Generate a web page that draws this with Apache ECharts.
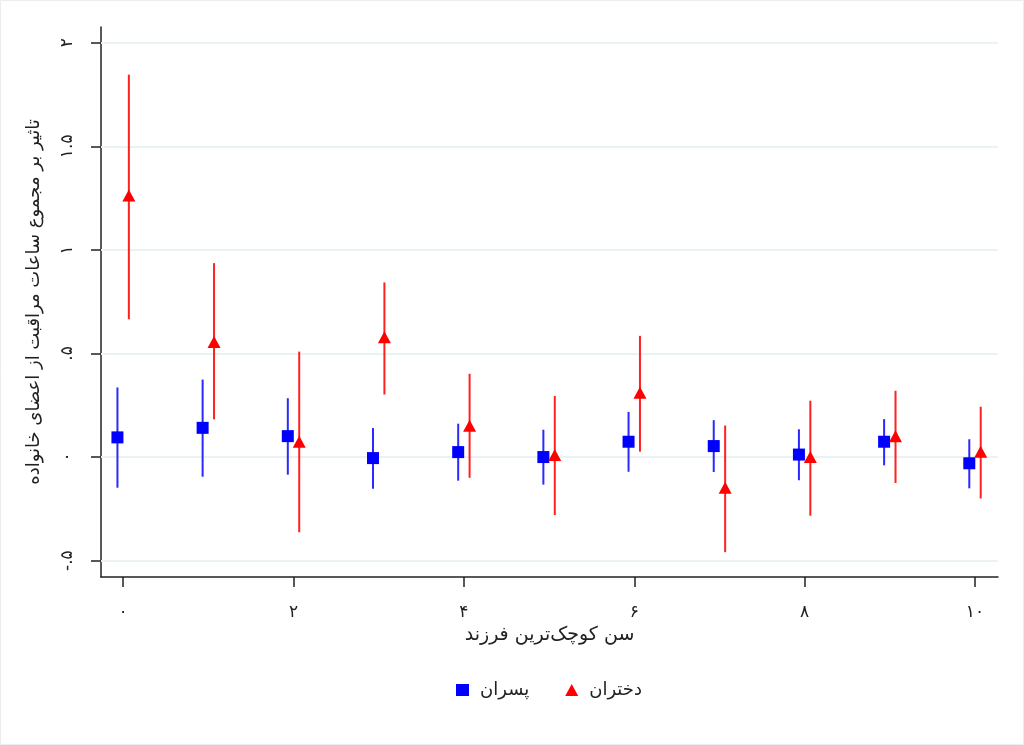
<!DOCTYPE html>
<html>
<head>
<meta charset="utf-8">
<script src="https://cdn.jsdelivr.net/npm/echarts@6/dist/echarts.min.js"></script>
<style>html,body{margin:0;padding:0;background:#fff}#c{width:1024px;height:745px}</style>
</head>
<body>
<div id="c"></div>
<script>
const ages = [0,1,2,3,4,5,6,7,8,9,10];
const boysCoef = [0.095, 0.141, 0.101, -0.005, 0.024, 0.000, 0.074, 0.053, 0.012, 0.074, -0.030];
const boysLo   = [-0.148, -0.095, -0.085, -0.153, -0.114, -0.133, -0.071, -0.072, -0.112, -0.040, -0.151];
const boysHi   = [0.336, 0.374, 0.284, 0.140, 0.161, 0.132, 0.218, 0.178, 0.134, 0.183, 0.086];
const girlsCoef = [1.263, 0.556, 0.074, 0.578, 0.151, 0.010, 0.310, -0.148, 0.000, 0.101, 0.026];
const girlsLo   = [0.665, 0.182, -0.363, 0.302, -0.100, -0.280, 0.026, -0.459, -0.283, -0.125, -0.200];
const girlsHi   = [1.846, 0.936, 0.509, 0.843, 0.402, 0.295, 0.585, 0.152, 0.272, 0.320, 0.243];
const xTickValues = [0,2,4,6,8,10];
const xTickLabels = ['۰','۲','۴','۶','۸','۱۰'];
const yTickValues = [-0.5,0,0.5,1,1.5,2];
const yTickLabels = ['-.۵','۰','.۵','۱','۱.۵','۲'];
const boysName = 'پسران';
const girlsName = 'دختران';
const xTitle = 'سن کوچک‌ترین فرزند';
const yTitle = 'تاثیر بر مجموع ساعات مراقبت از اعضای خانواده';

const OFF = 0.067;
const FONT = 'DejaVu Sans';

function ebData(coef, lo, hi, off){ return ages.map((a,i)=>[a+off, lo[i], hi[i]]); }
function ptData(coef, off){ return ages.map((a,i)=>[a+off, coef[i]]); }
function ebRender(color){
  return function(params, api){
    const p1 = api.coord([api.value(0), api.value(1)]);
    const p2 = api.coord([api.value(0), api.value(2)]);
    return {type:'line', shape:{x1:p1[0], y1:p1[1], x2:p2[0], y2:p2[1]},
            style:{stroke:color, lineWidth:2}};
  };
}

const chart = echarts.init(document.getElementById('c'), null, {renderer:'canvas'});
chart.setOption({
  animation:false,
  backgroundColor:'#fff',
  textStyle:{fontFamily:FONT},
  grid:{left:101, right:26, top:27, bottom:168, containLabel:false},
  graphic:[{type:'rect', shape:{x:0.5,y:0.5,width:1023,height:744}, style:{fill:'none', stroke:'#ececec', lineWidth:1}, silent:true}],
  legend:{
    left:451, top:676, orient:'horizontal', itemWidth:13, itemHeight:12, itemGap:36,
    textStyle:{fontFamily:FONT, fontSize:18, color:'#222', padding:[0,0,0,6]},
    data:[{name:boysName, icon:'rect'},{name:girlsName, icon:'triangle'}]
  },
  xAxis:{
    type:'value', min:-0.26, max:10.27,
    name:xTitle, nameLocation:'middle', nameGap:46,
    nameTextStyle:{fontFamily:FONT, fontSize:19, color:'#222'},
    axisLine:{show:true, onZero:false, lineStyle:{color:'#222', width:1.5}},
    axisTick:{show:true, length:10, lineStyle:{color:'#222', width:1.5}, customValues:xTickValues},
    axisLabel:{customValues:xTickValues, margin:27, fontSize:17, color:'#222', fontFamily:FONT,
      formatter:(v)=>xTickLabels[xTickValues.indexOf(v)]},
    splitLine:{show:false}
  },
  yAxis:{
    type:'value', min:-0.579, max:2.076,
    name:yTitle, nameLocation:'middle', nameGap:58, nameRotate:90,
    nameTextStyle:{fontFamily:FONT, fontSize:18, color:'#222'},
    axisLine:{show:true, onZero:false, lineStyle:{color:'#222', width:1.5}},
    axisTick:{show:true, length:10, lineStyle:{color:'#222', width:1.5}, customValues:yTickValues},
    axisLabel:{customValues:yTickValues, rotate:90, margin:25, fontSize:17, color:'#222', fontFamily:FONT,
      formatter:(v)=>yTickLabels[yTickValues.indexOf(v)]},
    splitLine:{show:false}
  },
  series:[
    {type:'scatter', name:'grid', data:[], silent:true,
     markLine:{silent:true, symbol:'none', z:1, label:{show:false},
       lineStyle:{color:'#eaf2f3', width:2, type:'solid'},
       data:yTickValues.map(v=>({yAxis:v}))}},
    {type:'custom', name:'boysCI', renderItem:ebRender('#2a2aff'), data:ebData(boysCoef,boysLo,boysHi,-OFF), z:3,
     encode:{x:0, y:[1,2]}},
    {type:'custom', name:'girlsCI', renderItem:ebRender('#ff2020'), data:ebData(girlsCoef,girlsLo,girlsHi,OFF), z:3,
     encode:{x:0, y:[1,2]}},
    {type:'scatter', name:boysName, data:ptData(boysCoef,-OFF), symbol:'rect', symbolSize:12,
     itemStyle:{color:'#0000ff', opacity:1}, z:5},
    {type:'scatter', name:girlsName, data:ptData(girlsCoef,OFF), symbol:'triangle', symbolSize:[13,12],
     itemStyle:{color:'#ff0000', opacity:1}, z:5}
  ]
});
</script>
</body>
</html>
